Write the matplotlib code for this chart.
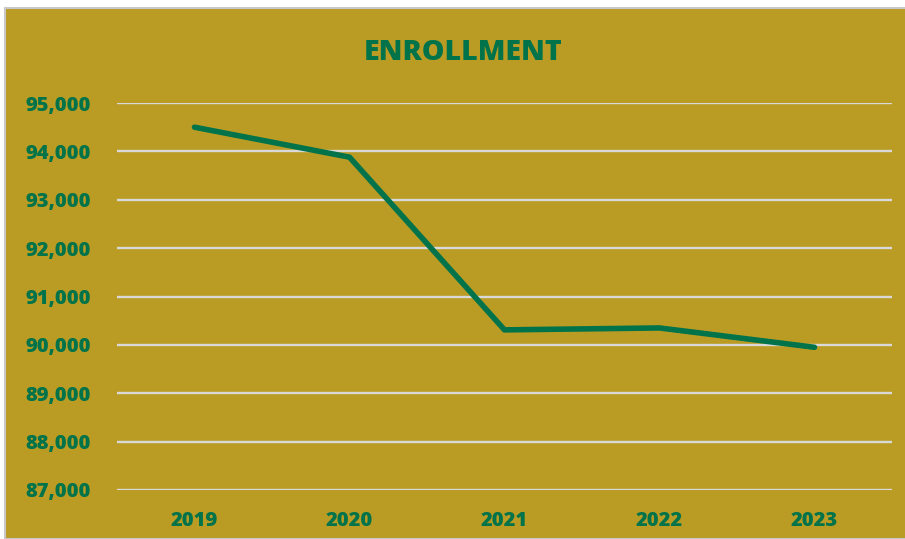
import matplotlib.pyplot as plt
from matplotlib.patches import Rectangle
from matplotlib.ticker import FuncFormatter

years = ['2019', '2020', '2021', '2022', '2023']
enrollment = [94500, 93880, 90310, 90350, 89950]
y_ticks = [87000, 88000, 89000, 90000, 91000, 92000, 93000, 94000, 95000]

gold = '#BA9B24'
green = '#00734A'
grid = '#D9D9D9'
font = 'Open Sans'

W, H = 905, 539
fig = plt.figure(figsize=(W / 100, H / 100), dpi=100)
fig.patch.set_facecolor('white')

# chart area with a thin grey frame
fig.patches.append(Rectangle((5 / W, 0), 1, 1 - 8 / H, transform=fig.transFigure,
                             facecolor=gold, edgecolor='#C8C8C8', linewidth=1.5, zorder=-5))

ax = fig.add_axes([117 / W, 1 - 490 / H, (892 - 117) / W, (490 - 103) / H], zorder=2)
ax.set_facecolor('none')

x = range(len(years))
ax.plot(x, enrollment, color=green, linewidth=4, solid_capstyle='round', zorder=3)

ax.set_xlim(-0.5, len(years) - 0.5)
ax.set_ylim(87000, 95000)
ax.set_yticks(y_ticks)
ax.yaxis.set_major_formatter(FuncFormatter(lambda v, p: f'{int(v):,}'))
ax.set_xticks(list(x))
ax.set_xticklabels(years)

ax.grid(axis='y', color=grid, linewidth=1.7)
ax.set_axisbelow(True)
for s in ax.spines.values():
    s.set_visible(False)
ax.tick_params(length=0)
ax.tick_params(axis='y', pad=19)
ax.tick_params(axis='x', pad=15)
for lab in ax.get_yticklabels() + ax.get_xticklabels():
    lab.set_fontfamily(font)
    lab.set_fontweight(800)
    lab.set_fontsize(14.5)
    lab.set_color(green)

fig.text(463 / W, 1 - 52 / H, 'ENROLLMENT', ha='center', va='center',
         fontfamily=font, fontweight=800, fontsize=20.5, color=green)

fig.savefig('out.png', dpi=100)
